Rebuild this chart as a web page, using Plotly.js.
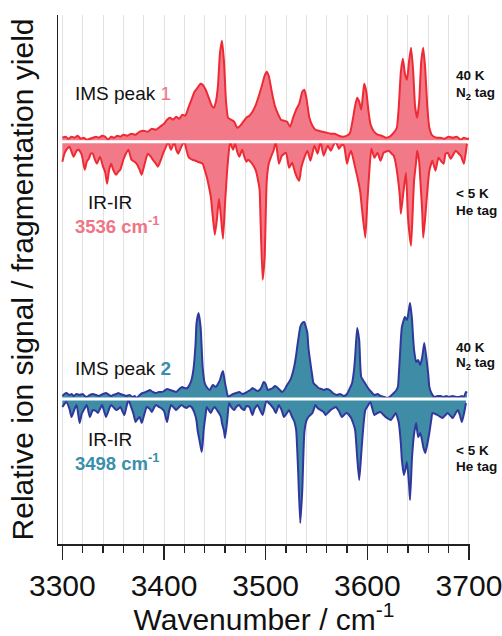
<!DOCTYPE html>
<html>
<head>
<meta charset="utf-8">
<script src="https://cdn.plot.ly/plotly-3.0.1.min.js"></script>
<style>html,body{margin:0;padding:0;background:#fff;}#chart{width:502px;height:636px;}</style>
</head>
<body>
<div id="chart"></div>
<script>
// ---- Data: spectrum 1 (IMS peak 1, 40 K N2 tag, upward) ----
var wnIMS1 = [3300,3303,3306,3309,3312,3315,3318,3321,3324,3327,3330,3333,3336,3339,3342,3345,3348,3351,3354,3357,3360,3364,3368,3372,3376,3380,3384,3388,3392,3396,3400,3403,3406,3409,3412,3415,3418,3421,3424,3427,3430,3433,3436,3438,3441,3444,3447,3449,3451,3453,3455,3457,3459,3461,3463,3466,3469,3472,3475,3478,3481,3484,3487,3490,3493,3496,3499,3501,3503,3506,3509,3512,3515,3518,3521,3524,3527,3530,3533,3536,3538,3540,3543,3546,3549,3552,3556,3560,3564,3568,3572,3576,3580,3583,3586,3588,3590,3592,3594,3596,3597,3599,3601,3603,3606,3610,3614,3618,3622,3626,3629,3631,3633,3635,3637,3639,3641,3643,3645,3647,3649,3651,3653,3655,3657,3659,3661,3664,3668,3672,3676,3680,3684,3688,3692,3695,3698,3700];
var sigIMS1 = [4,5,3,5,4,6,3,4,2,3,4,5,4,6,5,2,5,4,6,5,7,6,8,7,10,11,10,13,12,15,18,22,24,22,25,23,27,26,34,42,50,54,58,57,52,44,36,34,40,55,88,101,80,40,24,22,20,14,16,20,24,26,30,36,45,55,66,70,66,50,36,28,22,21,20,15,24,32,38,50,52,44,24,16,12,11,10,9,8,8,6,5,6,9,24,36,44,40,32,50,58,50,32,18,11,7,6,4,5,9,14,36,70,83,68,62,80,94,72,35,24,40,80,94,72,35,14,6,4,4,3,5,4,5,2,4,3,3];

// ---- Data: spectrum 1 IR-IR 3536 cm-1 (< 5 K He tag, downward) ----
var wnIRIR1 = [3300,3302,3304,3307,3309,3311,3314,3316,3319,3322,3324,3326,3328,3330,3332,3334,3337,3340,3342,3344,3346,3348,3350,3353,3355,3357,3360,3362,3365,3368,3371,3373,3376,3378,3381,3384,3387,3389,3392,3394,3397,3399,3402,3404,3406,3407,3409,3410,3412,3414,3417,3420,3422,3424,3426,3428,3431,3433,3436,3438,3440,3442,3444,3446,3448,3450,3452,3454,3456,3458,3460,3462,3463,3465,3467,3468,3470,3472,3474,3476,3477,3479,3481,3483,3485,3488,3490,3492,3494,3495,3497,3499,3501,3503,3505,3508,3510,3513,3516,3520,3523,3526,3529,3531,3533,3535,3538,3541,3544,3548,3551,3554,3557,3561,3564,3566,3569,3572,3575,3577,3580,3582,3584,3587,3589,3591,3593,3595,3598,3600,3602,3604,3607,3610,3613,3616,3618,3621,3624,3626,3628,3630,3632,3633,3635,3636,3638,3640,3643,3645,3646,3648,3649,3651,3652,3654,3655,3657,3658,3661,3664,3667,3670,3673,3675,3677,3679,3682,3685,3687,3690,3692,3695,3697,3698];
var sigIRIR1 = [-20,-12,-8,-5,-10,-15,-9,-8,-13,-28,-20,-17,-12,-12,-18,-22,-15,-25,-30,-42,-28,-22,-28,-33,-30,-28,-18,-13,-8,-18,-20,-22,-28,-33,-22,-12,-15,-18,-22,-25,-18,-12,-5,0,-6,-8,-3,0,-8,-12,-5,0,-8,-15,-17,-18,-19,-20,-21,-22,-28,-35,-44,-55,-75,-93,-78,-57,-75,-97,-62,-30,-18,0,-6,-8,-2,-10,-15,-10,-8,-15,-20,-18,-20,-24,-28,-36,-48,-80,-138,-115,-40,-22,-16,-8,0,-22,-14,-11,-26,-21,-31,-36,-39,-26,-16,-9,-19,-4,-12,0,-14,-4,-9,-5,0,-7,-3,-4,-22,-14,-9,-21,-30,-39,-50,-70,-96,-60,-29,-7,-16,-11,-19,-11,-10,-9,-12,-14,-22,-36,-55,-72,-55,-46,-31,-76,-104,-60,-39,-20,-9,-20,-36,-70,-96,-75,-62,-29,-19,-29,-16,-20,-22,-12,-11,-17,-12,-9,-12,-14,-22,-10,-2];

// ---- Data: spectrum 2 (IMS peak 2, 40 K N2 tag, upward) ----
var wnIMS2 = [3300,3302,3304,3307,3309,3311,3314,3317,3320,3322,3324,3327,3330,3333,3336,3338,3340,3343,3346,3348,3350,3353,3355,3357,3360,3363,3366,3369,3371,3373,3376,3379,3382,3384,3386,3389,3392,3395,3398,3400,3403,3406,3409,3412,3415,3418,3420,3423,3425,3427,3429,3431,3432,3434,3436,3438,3440,3442,3445,3448,3451,3453,3455,3457,3458,3460,3462,3463,3466,3468,3471,3474,3477,3480,3483,3485,3487,3490,3492,3494,3496,3498,3500,3502,3505,3507,3509,3511,3514,3516,3519,3521,3523,3525,3528,3530,3531,3533,3534,3536,3538,3539,3541,3542,3544,3546,3547,3550,3552,3555,3557,3560,3563,3566,3570,3573,3577,3580,3582,3585,3587,3588,3590,3592,3594,3597,3600,3603,3607,3610,3613,3617,3620,3623,3626,3628,3630,3631,3632,3634,3637,3639,3641,3642,3644,3645,3646,3648,3650,3652,3654,3656,3658,3660,3661,3663,3666,3669,3672,3675,3678,3680,3684,3688,3690,3693,3695,3697,3698];
var sigIMS2 = [3,5,6,4,5,3,5,4,5,3,2,4,5,4,3,4,5,6,4,3,4,5,6,5,4,3,4,2,3,1,4,6,7,8,9,7,6,7,7,8,10,9,8,7,10,12,11,11,14,19,30,55,76,86,72,32,16,12,9,14,12,15,19,26,28,16,6,2,4,5,6,7,5,6,8,9,11,9,8,9,12,17,15,9,10,11,13,12,9,7,10,14,17,21,32,44,52,66,72,76,77,74,66,52,36,22,16,13,11,10,9,10,9,6,4,5,3,5,9,16,30,42,71,59,22,17,12,8,4,5,3,2,1,3,6,8,12,25,42,72,82,79,90,96,79,62,49,37,39,34,42,56,42,24,12,6,2,3,3,2,3,2,3,2,2,3,2,7,6];

// ---- Data: spectrum 2 IR-IR 3498 cm-1 (< 5 K He tag, downward) ----
var wnIRIR2 = [3300,3302,3304,3307,3309,3312,3314,3317,3319,3321,3324,3327,3330,3333,3335,3337,3339,3341,3343,3346,3348,3351,3353,3355,3357,3359,3361,3363,3365,3367,3368,3370,3372,3374,3376,3378,3379,3381,3383,3386,3388,3390,3392,3395,3397,3400,3403,3405,3407,3410,3412,3415,3417,3420,3422,3425,3427,3430,3432,3433,3435,3437,3438,3439,3441,3442,3444,3446,3448,3450,3452,3454,3456,3457,3459,3460,3462,3464,3466,3469,3471,3474,3476,3479,3481,3484,3487,3489,3492,3494,3497,3499,3501,3503,3505,3508,3510,3513,3516,3518,3521,3523,3526,3528,3530,3531,3532,3534,3536,3538,3540,3542,3546,3549,3551,3554,3557,3559,3562,3564,3567,3569,3572,3575,3578,3580,3582,3584,3586,3588,3590,3592,3594,3595,3597,3598,3601,3603,3605,3607,3610,3613,3616,3618,3621,3623,3626,3628,3630,3631,3633,3634,3636,3638,3639,3641,3642,3644,3646,3648,3650,3652,3654,3655,3657,3659,3661,3663,3664,3667,3669,3672,3674,3677,3679,3682,3684,3687,3689,3691,3693,3695,3697];
var sigIRIR2 = [-8,-5,-3,-10,-18,-10,-6,-24,-15,-11,-6,-18,-11,-12,-14,-10,-6,-12,-18,-10,-6,-9,-11,-10,-8,-12,-16,-8,-1,-6,-9,-15,-23,-20,-18,-24,-21,-14,-8,-10,-13,-9,-6,-8,-9,-12,-23,-12,-6,-9,-11,-8,-6,-8,-9,-7,-8,-14,-22,-31,-42,-53,-45,-31,-15,-8,-11,-14,-10,-8,-11,-14,-18,-24,-32,-39,-23,-4,-8,-11,-8,-6,-9,-11,-7,-8,-16,-10,-6,-10,-16,-8,-1,-4,-6,-10,-14,-6,-12,-18,-14,-11,-18,-22,-31,-50,-74,-124,-91,-34,-22,-18,-14,-6,-9,-11,-13,-16,-13,-11,-9,-8,-12,-18,-15,-14,-16,-19,-24,-31,-58,-81,-55,-41,-18,-11,-6,-3,-10,-16,-14,-13,-16,-18,-20,-21,-17,-14,-20,-24,-45,-61,-76,-68,-63,-85,-101,-58,-35,-24,-38,-34,-42,-48,-54,-45,-34,-20,-14,-15,-16,-18,-19,-16,-14,-17,-19,-14,-11,-16,-23,-15,-4];

var baseX = [3298, 3700];
var baseY = [0, 0];

var xTicks = [3300, 3400, 3500, 3600, 3700];

var FONT = 'Liberation Sans, Arial, Helvetica, sans-serif';
var RED_LINE = '#ee2a34', RED_FILL = '#f27a88', PINK_TXT = '#f07585';
var BLUE_LINE = '#30389e', BLUE_FILL = '#3f8ca6', TEAL_TXT = '#3a8fad';

function spec(x, y, axis, line, fill, name) {
  return {x: x, y: y, yaxis: axis, type: 'scatter', mode: 'lines', name: name,
    line: {color: line, width: 2, shape: 'spline', smoothing: 0.5},
    fill: 'tozeroy', fillcolor: fill, hoverinfo: 'x+y'};
}
function base(axis) {
  return {x: baseX, y: baseY, yaxis: axis, type: 'scatter', mode: 'lines',
    line: {color: '#ffffff', width: 3}, hoverinfo: 'skip', showlegend: false};
}

var traces = [
  spec(wnIMS1, sigIMS1, 'y2', RED_LINE, RED_FILL, 'IMS peak 1'),
  spec(wnIRIR1, sigIRIR1, 'y2', RED_LINE, RED_FILL, 'IR-IR 3536'),
  base('y2'),
  spec(wnIMS2, sigIMS2, 'y', BLUE_LINE, BLUE_FILL, 'IMS peak 2'),
  spec(wnIRIR2, sigIRIR2, 'y', BLUE_LINE, BLUE_FILL, 'IR-IR 3498'),
  base('y')
];

function ann(text, x, y, size, bold, anchor, color) {
  return {xref: 'paper', yref: 'paper', x: x, y: y, text: bold ? '<b>' + text + '</b>' : text,
    showarrow: false, xanchor: anchor || 'left', yanchor: 'middle',
    font: {family: FONT, size: size, color: color || '#111111'}};
}

var annotations = [
  ann('IMS peak <span style="color:' + PINK_TXT + '">1</span>', 0.036, 0.851, 19, false),
  ann('IR-IR', 0.126, 0.646, 19, false, 'center'),
  ann('3536 cm<sup>-1</sup>', 0.036, 0.603, 18.5, true, 'left', PINK_TXT),
  ann('40 K', 0.962, 0.885, 13.5, true),
  ann('N<sub>2</sub> tag', 0.962, 0.852, 13.5, true),
  ann('&lt; 5 K', 0.962, 0.663, 13.5, true),
  ann('He tag', 0.962, 0.631, 13.5, true),
  ann('IMS peak <span style="color:' + TEAL_TXT + '"><b>2</b></span>', 0.036, 0.331, 19, false),
  ann('IR-IR', 0.126, 0.197, 19, false, 'center'),
  ann('3498 cm<sup>-1</sup>', 0.036, 0.155, 18.5, true, 'left', TEAL_TXT),
  ann('40 K', 0.962, 0.372, 13.5, true),
  ann('N<sub>2</sub> tag', 0.962, 0.342, 13.5, true),
  ann('&lt; 5 K', 0.962, 0.176, 13.5, true),
  ann('He tag', 0.962, 0.146, 13.5, true)
];

var layout = {
  width: 502, height: 636,
  margin: {l: 58, r: 32, t: 15, b: 92},
  paper_bgcolor: '#ffffff', plot_bgcolor: '#ffffff',
  showlegend: false,
  font: {family: FONT, color: '#111111'},
  xaxis: {
    range: [3295.7, 3701], tickvals: xTicks, ticktext: xTicks.map(String),
    ticks: 'outside', ticklen: 14, tickwidth: 1.5, tickcolor: '#222',
    ticklabeloverflow: 'allow',
    showline: true, linecolor: '#222', linewidth: 1.5,
    showgrid: true, gridcolor: '#e2e2e2', gridwidth: 1, zeroline: false,
    tickfont: {family: FONT, size: 30, color: '#111'},
    minor: {dtick: 20, tick0: 3300, ticks: 'outside', ticklen: 7, tickwidth: 1.5, tickcolor: '#222',
            showgrid: true, gridcolor: '#e2e2e2', gridwidth: 1},
    title: {text: 'Wavenumber / cm<sup>-1</sup>', font: {family: FONT, size: 30, color: '#111'}, standoff: 9},
    automargin: false, fixedrange: true
  },
  yaxis: {
    range: [-145, 384], showline: true, linecolor: '#222', linewidth: 1.5,
    showticklabels: false, ticks: '', showgrid: false, zeroline: false,
    title: {text: 'Relative ion signal / fragmentation yield', font: {family: FONT, size: 30, color: '#111'}, standoff: 14},
    automargin: false, fixedrange: true
  },
  yaxis2: {
    range: [-402.3, 126.7], overlaying: 'y', visible: false, fixedrange: true
  },
  annotations: annotations
};

Plotly.newPlot('chart', traces, layout, {displayModeBar: false, staticPlot: true});
</script>
</body>
</html>
